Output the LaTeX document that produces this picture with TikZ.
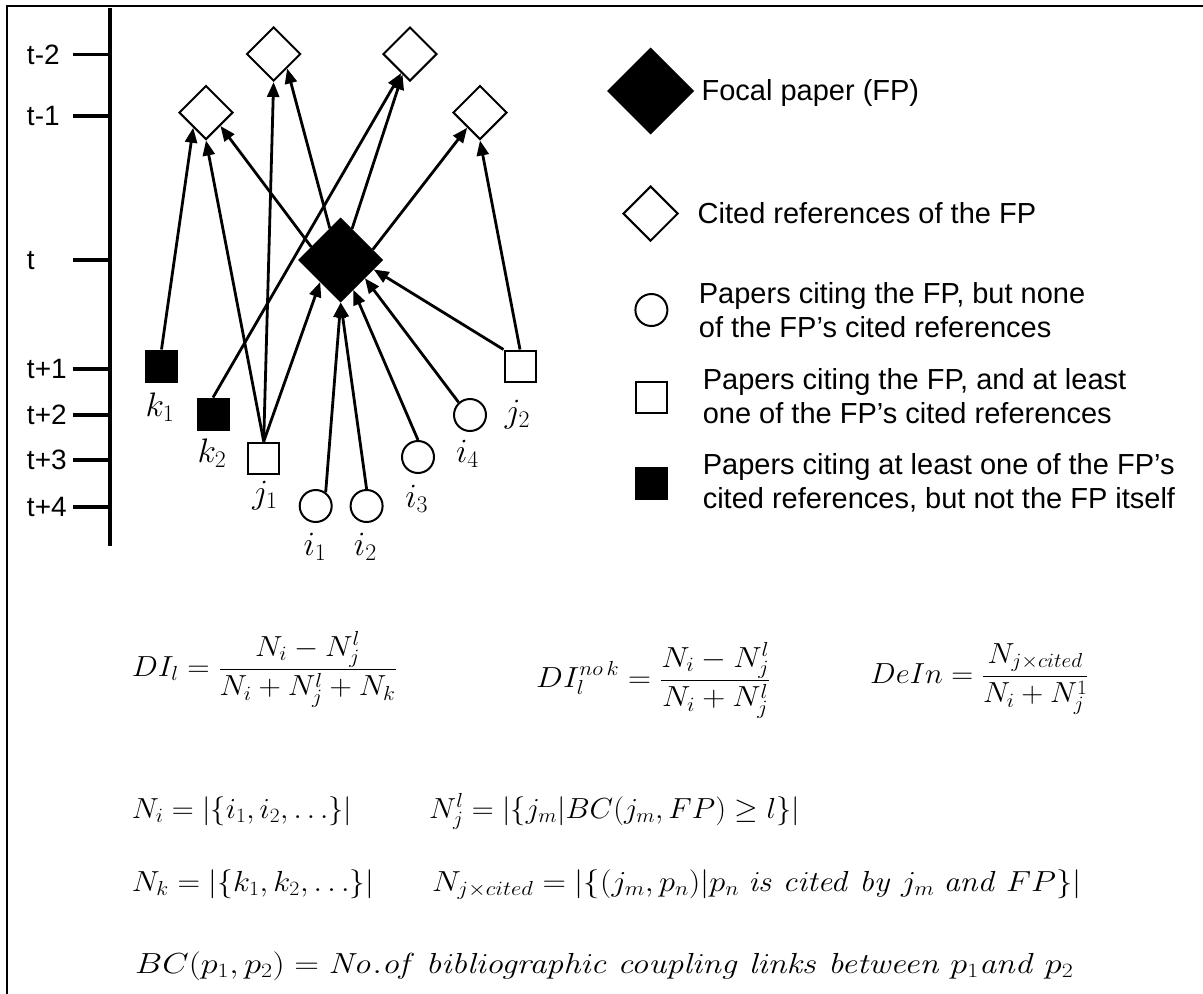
\RequirePackage{fix-cm}
\documentclass[tikz,border=0pt]{standalone}
\usepackage[no-math]{fontspec}
\setmainfont{Liberation Sans}
\usetikzlibrary{arrows.meta,shapes.geometric}
\newcommand\legfont{\fontsize{29}{34}\selectfont}
\newcommand\axfont{\fontsize{28}{32}\selectfont}
\newcommand\lblfont{\fontsize{34}{38}\selectfont}
\newcommand\eqfont{\fontsize{29}{34}\selectfont}
\newcommand\eqx[2]{\scalebox{#1}[1]{#2}}
\begin{document}
\begin{tikzpicture}[x=1pt,y=-1pt,
  every node/.style={inner sep=0pt},
  cited/.style={diamond,draw,line width=2pt,fill=white,minimum width=54pt,minimum height=54pt,inner sep=0pt},
  focal/.style={diamond,draw,fill=black,line width=1pt,minimum width=84pt,minimum height=84pt,inner sep=0pt},
  jbox/.style={rectangle,draw,line width=2pt,fill=white,minimum size=31pt,inner sep=0pt},
  kbox/.style={rectangle,draw,line width=2pt,fill=black,minimum size=31pt,inner sep=0pt},
  ibox/.style={circle,draw,line width=2pt,fill=white,minimum size=32pt,inner sep=0pt},
  cite/.style={line width=2.8pt,-{Triangle[length=15pt,width=12pt]}},
  tick/.style={line width=3.5pt},
  axlbl/.style={anchor=base west,font=\axfont},
  lbl/.style={anchor=base,font=\lblfont},
  legtext/.style={anchor=base west,font=\legfont,align=left},
  eq/.style={anchor=base west,font=\eqfont}]
\useasboundingbox (0,0) rectangle (1203,994);
% frame
\draw[line width=2pt] (7,994) -- (7,6) -- (1203,6);
% time axis
\coordinate (axtop) at (110,8);
\coordinate (axbot) at (110,546);
\draw[line width=3.5pt] (axtop) -- (axbot);
\foreach \lab/\yy in {t-2/54.6,t-1/116,t/260,t+1/369,t+2/415,t+3/460,t+4/507}{
  \draw[tick] (72.7,\yy) -- (110,\yy);
  \node[axlbl] at (26.8,\yy+9.5) {\lab};
}
% nodes
\node[cited] (L2) at (273.6,54) {};
\node[cited] (R2) at (410,54) {};
\node[cited] (L1) at (206,112.5) {};
\node[cited] (R1) at (480,112.5) {};
\node[focal] (FP) at (340.7,260) {};
\node[kbox] (k1) at (161.5,366) {};
\node[kbox] (k2) at (213,414) {};
\node[jbox] (j1) at (263.7,458) {};
\node[jbox] (j2) at (520,366) {};
\node[ibox] (i1) at (315.7,506) {};
\node[ibox] (i2) at (366.6,506) {};
\node[ibox] (i3) at (418,457) {};
\node[ibox] (i4) at (470,415) {};
% labels
\node[lbl] (k1l) at (160,416) {$k_1$};
\node[lbl] (k2l) at (212,462) {$k_2$};
\node[lbl] (j1l) at (265,503.5) {$j_1$};
\node[lbl] (j2l) at (517.5,422) {$j_2$};
\node[lbl] (i1l) at (315,555) {$i_1$};
\node[lbl] (i2l) at (365.3,555) {$i_2$};
\node[lbl] (i3l) at (416.7,507) {$i_3$};
\node[lbl] (i4l) at (467.5,462) {$i_4$};
% citations
\draw[cite] (k1.north) -- (L1.-130);
\draw[cite] (j1.north) -- (L1.south);
\draw[cite] (FP.156) -- (L1.-43);
\draw[cite] (j1.north) -- (L2.south);
\draw[cite] (FP.109) -- (L2.-47);
\draw[cite] (k2.north) -- (R2.-115);
\draw[cite] (FP.70) -- (R2.-110);
\draw[cite] (FP.18) -- (R1.-130);
\draw[cite] (j2.north) -- (R1.south);
\draw[cite] (j1.north) -- (FP.-133);
\draw[cite] (i1.54) -- (FP.south);
\draw[cite] (i2.north) -- (FP.south);
\draw[cite] (i3.north) -- (FP.-67);
\draw[cite] (i4.132) -- (FP.-37);
\draw[cite] (j2.north west) -- (FP.-16);
% legend
\node[focal,minimum width=86pt,minimum height=86pt] (lgFP) at (650.6,91) {};
\node[legtext] (lgFPt) at (701.4,100) {Focal paper (FP)};
\node[cited,minimum width=55pt,minimum height=55pt] (lgC) at (650.6,213.6) {};
\node[legtext] (lgCt) at (697.5,223.2) {Cited references of the FP};
\node[ibox] (lgI) at (651.4,310) {};
\node[legtext] (lgIt) at (698.7,337.5) {Papers citing the FP, but none\\of the FP’s cited references};
\node[jbox] (lgJ) at (651.5,397) {};
\node[legtext] (lgJt) at (702.6,423.5) {Papers citing the FP, and at least\\one of the FP’s cited references};
\node[kbox] (lgK) at (651.5,483) {};
\node[legtext] (lgKt) at (702.6,508) {Papers citing at least one of the FP’s\\cited references, but not the FP itself};
% formulas
\node[eq] (eq1) at (131.7,676) {\eqx{1.07}{$\displaystyle DI_l = \frac{N_i - N_j^l}{N_i + N_j^l + N_k}$}};
\node[eq] (eq2) at (536,687) {\eqx{1.10}{$\displaystyle DI_l^{no\,k} = \frac{N_i - N_j^l}{N_i + N_j^l}$}};
\node[eq] (eq3) at (870,683) {\eqx{1.05}{$\displaystyle DeIn = \frac{N_{j\times cited}}{N_i + N_j^1}$}};
\node[eq] (eq4) at (131.7,818) {\eqx{1.05}{$N_i = |\{i_1, i_2, \ldots\}|$}};
\node[eq] (eq5) at (429,818) {\eqx{1.05}{$N_j^l = |\{j_m | BC(j_m, FP) \geq l\}|$}};
\node[eq] (eq6) at (131.7,891) {\eqx{1.08}{$N_k = |\{k_1, k_2, \ldots\}|$}};
\node[eq] (eq7) at (432,891) {\eqx{1.12}{$N_{j\times cited} = |\{(j_m, p_n) | p_n\ \mathit{is\ cited\ by}\ j_m\ \mathit{and}\ FP\}|$}};
\node[eq] (eq8) at (135,973) {\eqx{1.18}{$BC(p_1, p_2) = \mathit{No.of\ bibliographic\ coupling\ links\ between\ }p_1\mathit{and\ }p_2$}};
\end{tikzpicture}
\end{document}
